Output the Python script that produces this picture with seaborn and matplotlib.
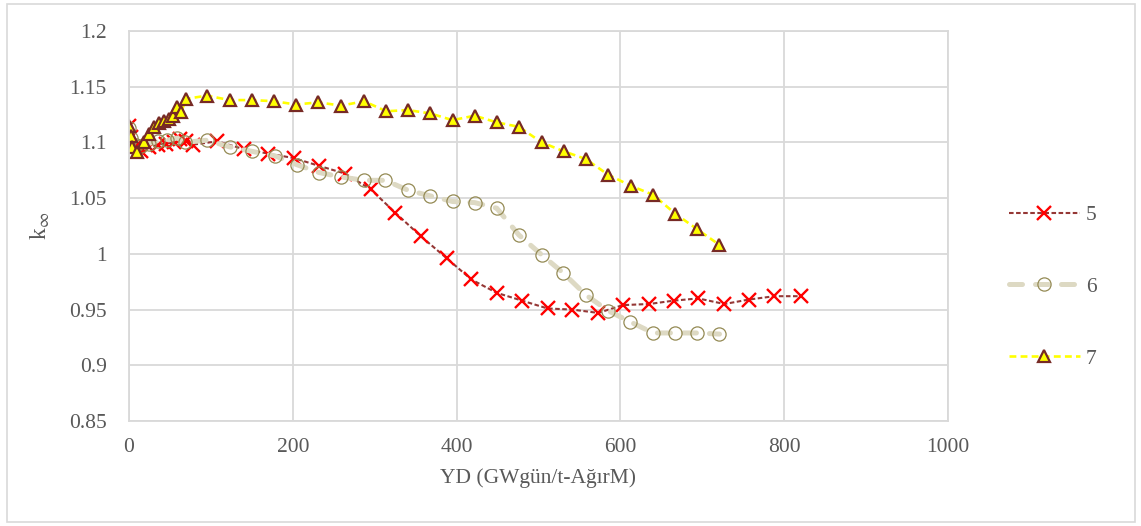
#!/usr/bin/env python3
"""k-infinity vs burnup for cases 5, 6 and 7."""

import numpy as np
import pandas as pd
import matplotlib
matplotlib.use("Agg")
import matplotlib.pyplot as plt
from matplotlib.patches import Rectangle
from matplotlib.ticker import FuncFormatter, MultipleLocator
import seaborn as sns

# burnup (GWgün/t-AğırM) and k-inf
yd_5 = [0, 3, 8, 15, 25, 35, 45, 55, 62, 70, 78, 108, 140, 170, 201, 232, 264,
        295, 325, 356, 388, 418, 449, 480, 511, 541, 573, 603, 635, 665, 695,
        727, 757, 788, 820]
k_5 = [1.115, 1.105, 1.097, 1.092, 1.096, 1.098, 1.099, 1.100, 1.103, 1.101,
       1.098, 1.101, 1.094, 1.090, 1.086, 1.079, 1.072, 1.058, 1.037, 1.016,
       0.996, 0.977, 0.965, 0.958, 0.951, 0.950, 0.947, 0.954, 0.955, 0.958,
       0.960, 0.955, 0.959, 0.962, 0.962]

yd_6 = [0, 3, 8, 15, 24, 35, 47, 59, 68, 95, 123, 150, 178, 205, 232, 259, 287,
        313, 341, 368, 395, 422, 449, 476, 504, 530, 558, 585, 612, 640, 667,
        694, 721]
k_6 = [1.113, 1.104, 1.098, 1.097, 1.099, 1.101, 1.102, 1.104, 1.100, 1.102,
       1.096, 1.092, 1.088, 1.080, 1.073, 1.069, 1.066, 1.066, 1.057, 1.052,
       1.047, 1.046, 1.041, 1.017, 0.999, 0.983, 0.963, 0.949, 0.939, 0.929,
       0.929, 0.929, 0.928]

yd_7 = [0, 2, 4, 10, 18, 25, 31, 37, 43, 49, 54, 58, 64, 69, 95, 123, 150, 177,
        204, 231, 259, 287, 314, 341, 368, 395, 422, 449, 476, 504, 531, 558,
        585, 613, 640, 667, 694, 721]
k_7 = [1.115, 1.106, 1.096, 1.091, 1.100, 1.108, 1.114, 1.117, 1.119, 1.121,
       1.124, 1.132, 1.127, 1.139, 1.142, 1.138, 1.138, 1.137, 1.134, 1.136,
       1.133, 1.137, 1.128, 1.129, 1.126, 1.120, 1.124, 1.118, 1.114, 1.100,
       1.092, 1.085, 1.071, 1.061, 1.053, 1.036, 1.022, 1.008]

labels = ["5", "6", "7"]

TEXT = "#595959"
GRID = "#d9d9d9"

sns.set_theme(style="white")
plt.rcParams["font.family"] = ["Liberation Serif", "DejaVu Serif"]
plt.rcParams["mathtext.fontset"] = "stix"

fig = plt.figure(figsize=(11.41, 5.26), dpi=100)
ax = fig.add_axes([129 / 1141, 1 - 421 / 526, 819 / 1141, 390 / 526])

df5 = pd.DataFrame({"yd": yd_5, "k": k_5})
df6 = pd.DataFrame({"yd": yd_6, "k": k_6})
df7 = pd.DataFrame({"yd": yd_7, "k": k_7})

sns.lineplot(data=df5, x="yd", y="k", ax=ax, estimator=None, sort=False,
             label=labels[0], color="#953735", linewidth=1.5, dashes=False,
             linestyle=(0, (2.2, 1.2)), marker="x", markersize=9.5,
             markeredgecolor="#ff0000", markeredgewidth=1.7)
sns.lineplot(data=df6, x="yd", y="k", ax=ax, estimator=None, sort=False,
             label=labels[1], color="#ddd9c3", linewidth=3.6, dashes=False,
             linestyle=(0, (2.6, 2.6)), dash_capstyle="round",
             marker="o", markersize=9.5, markerfacecolor="none",
             markeredgecolor="#948a54", markeredgewidth=0.9)
sns.lineplot(data=df7, x="yd", y="k", ax=ax, estimator=None, sort=False,
             label=labels[2], color="#ffff00", linewidth=1.9, dashes=False,
             linestyle=(0, (2.6, 1.6)), marker="^", markersize=8.5,
             markerfacecolor="#ffff00", markeredgecolor="#772a25",
             markeredgewidth=1.6)

ax.set_xlim(0, 1000)
ax.set_ylim(0.85, 1.2)
ax.xaxis.set_major_locator(MultipleLocator(200))
ax.yaxis.set_major_locator(MultipleLocator(0.05))
ax.yaxis.set_major_formatter(FuncFormatter(lambda v, p: f"{v:.2f}".rstrip("0").rstrip(".")))
ax.grid(True, color=GRID, linewidth=1.3)
ax.set_axisbelow(True)
for s in ax.spines.values():
    s.set_color(GRID)
    s.set_linewidth(1.3)
ax.tick_params(axis="both", length=0, labelsize=15.5, colors=TEXT)
ax.tick_params(axis="y", pad=16)
ax.tick_params(axis="x", pad=12)

ax.set_xlabel("YD (GWgün/t-AğırM)", fontsize=15.5, color=TEXT, labelpad=8)
ax.set_ylabel(r"k$_{\infty}$", fontsize=17, color=TEXT, labelpad=12)

leg = ax.legend(loc="center left", bbox_to_anchor=(1000 / 1141, 1 - 287 / 526),
                bbox_transform=fig.transFigure, frameon=False, fontsize=15.5,
                handlelength=3.3, handletextpad=0.3, labelspacing=2.4,
                borderaxespad=0)
for t in leg.get_texts():
    t.set_color(TEXT)

# thin frame around the whole chart area
fig.patches.append(Rectangle((7 / 1141, 4 / 526), 1128 / 1141, 518 / 526,
                             transform=fig.transFigure, fill=False,
                             edgecolor=GRID, linewidth=1.2))

fig.savefig("out.png", dpi=100)
